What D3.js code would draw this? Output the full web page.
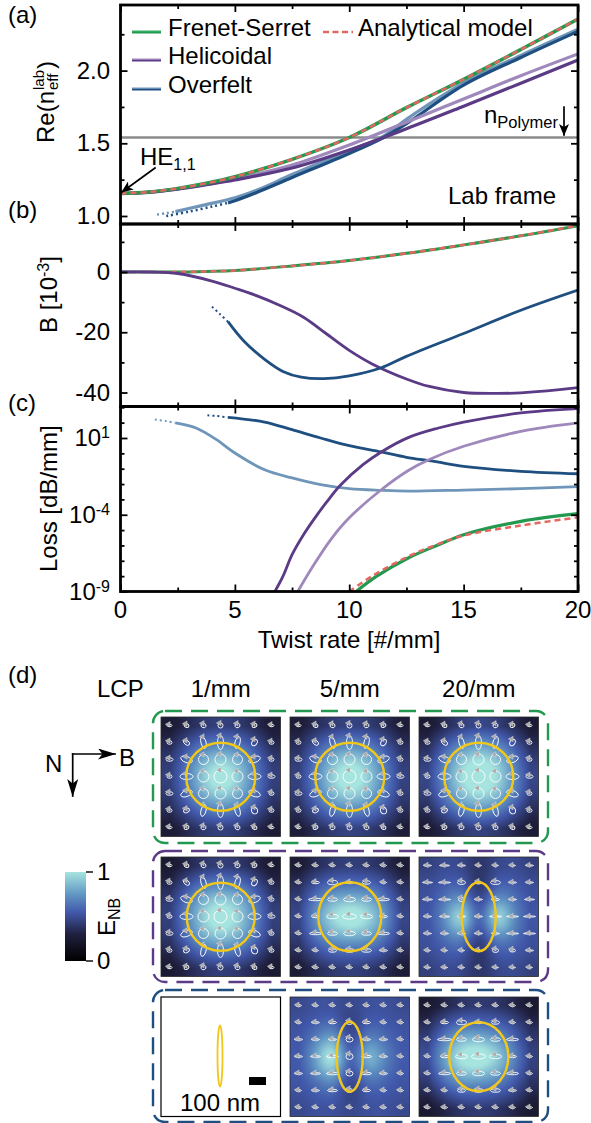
<!DOCTYPE html>
<html>
<head>
<meta charset="utf-8">
<script src="https://cdn.jsdelivr.net/npm/d3@7"></script>
<style>
    body { margin: 0; background: #fff; }
    svg { display: block; font-family: "Liberation Sans", Arial, sans-serif; }
    text { fill: #000; }
</style>
</head>
<body>
<div id="chart"></div>
<script>
// Colours
const green = '#23994f', red = '#e2675f', grey = '#8b8b8b', yellow = '#f2c71c';
const purple = '#5b3a86', purpleLight = '#9f88bb';
const blue = '#1f4f80', blueLight = '#6f95b9';

// Panel (a): Re(n_eff)
const twistGrid = [0, 1.25, 2.5, 3.75, 5, 7.5, 10, 12.5, 15, 17.5, 20];
const frenetRe = [1.155, 1.165, 1.19, 1.225, 1.27, 1.39, 1.54, 1.745, 1.94, 2.145, 2.355];
const analyticRe = [1.155, 1.165, 1.19, 1.225, 1.27, 1.39, 1.54, 1.745, 1.94, 2.145, 2.355];
const helicalRe = [1.155, 1.163, 1.185, 1.215, 1.248, 1.33, 1.454, 1.6, 1.755, 1.913, 2.073];
const helicalLightRe = [1.155, 1.164, 1.187, 1.218, 1.255, 1.35, 1.488, 1.645, 1.805, 1.965, 2.115];
const overfeltReX = [4.7, 5, 6, 7.5, 10, 11.5, 12.5, 15, 17.5, 20];
const overfeltRe = [1.09, 1.105, 1.165, 1.265, 1.43, 1.54, 1.635, 1.9, 2.09, 2.27];
const overfeltDotReX = [2, 3, 4, 4.7];
const overfeltDotRe = [1.0, 1.03, 1.065, 1.09];
const overfeltLightReX = [2.4, 3.5, 5, 6, 7.5, 10, 11.5, 12.5, 15, 17.5, 20];
const overfeltLightRe = [1.03, 1.07, 1.125, 1.18, 1.285, 1.45, 1.55, 1.665, 1.915, 2.105, 2.285];
const overfeltLightDotReX = [1.6, 2, 2.4];
const overfeltLightDotRe = [1.01, 1.02, 1.03];
const nPolymer = 1.54;

// Panel (b): birefringence
const frenetB = [0, 0, 0, 0.2, 0.5, 2, 3.8, 6.2, 9, 12, 15.4];
const analyticB = [0, 0, 0, 0.2, 0.5, 2, 3.8, 6.2, 9, 12, 15.4];
const helicalBX = [0, 1.25, 2.5, 4, 5, 6, 7, 8, 9, 10, 11, 12.5, 13.5, 15, 16.5, 17.5, 20];
const helicalB = [0, 0, -0.5, -3, -5.4, -8, -11.2, -15, -20.5, -26, -30.5, -35.5, -38, -40, -40.3, -40.1, -38.4];
const overfeltBX = [4.7, 5.4, 6.3, 7.1, 7.9, 8.9, 10, 11.4, 12.5, 15, 17.5, 20];
const overfeltB = [-16.5, -23, -29, -33, -34.9, -35.4, -34.5, -31.8, -28, -20.4, -12.7, -6];
const overfeltDotBX = [4, 4.35, 4.7];
const overfeltDotB = [-11.5, -14, -16.5];

// Panel (c): loss, exponents of ten
const overfeltLossX = [4.7, 6.3, 7.5, 8.75, 10, 11.4, 12.5, 13.7, 15, 17.5, 20];
const overfeltLoss = [2.35, 2.04, 1.54, 1, 0.5, 0.09, -0.26, -0.52, -0.85, -1.17, -1.33];
const overfeltDotLossX = [3.8, 4.2, 4.7];
const overfeltDotLoss = [2.48, 2.43, 2.35];
const overfeltLightLossX = [2.4, 3.3, 4.2, 5, 6.3, 7.5, 8.75, 10, 11.4, 12.6, 15, 17.5, 20];
const overfeltLightLoss = [1.98, 1.65, 0.89, 0.02, -1.07, -1.6, -2.04, -2.3, -2.41, -2.46, -2.39, -2.3, -2.17];
const overfeltLightDotLossX = [1.5, 2, 2.4];
const overfeltLightDotLoss = [2.2, 2.1, 1.98];
const helicalLossX = [6.75, 7.1, 7.5, 8, 8.5, 9, 9.6, 10.6, 11.4, 12.6, 13.9, 15, 17.5, 20];
const helicalLoss = [-9, -8.02, -6.6, -5.3, -4.2, -3.2, -2.1, -0.74, 0.09, 1.04, 1.65, 2.04, 2.63, 2.91];
const helicalLightLossX = [7.75, 8.35, 9.2, 10, 11.4, 12.6, 13.5, 15, 17.5, 20];
const helicalLightLoss = [-9, -7.5, -5.6, -4.2, -2.37, -1.1, -0.4, 0.46, 1.43, 1.98];
const frenetLossX = [10.3, 11.2, 12.6, 13.9, 15, 17.5, 20];
const frenetLoss = [-9, -8, -6.8, -5.96, -5.3, -4.43, -3.93];
const analyticLossX = [10, 11, 12.6, 13.9, 15, 17.5, 20];
const analyticLoss = [-9, -8, -6.7, -5.9, -5.35, -4.7, -4.17];

// Legend and axis labels
const legendLabels = ['Frenet-Serret', 'Helicoidal', 'Overfelt'];
const legendLight = ['#35ad62', purpleLight, blueLight];
const legendDark = [green, purple, blue];
const xTicks = [0, 5, 10, 15, 20];
const xMinor = [2.5, 7.5, 12.5, 17.5];
const reTicks = [1, 1.5, 2];
const reMinor = [1.25, 1.75, 2.25];
const bTicks = [0, -20, -40];
const bMinor = [10, -10, -30];
const lossTicks = [1e1, 1e-4, 1e-9];
const lossMinor = [1e3, 1e2, 1e0, 1e-1, 1e-2, 1e-3, 1e-5, 1e-6, 1e-7, 1e-8];
const rateLabels = ['1/mm', '5/mm', '20/mm'];

// Colour map of the field images
const fieldStops = [0, 0.3, 0.55, 0.75, 1];
const fieldColors = ['#000000', '#20203f', '#4259ab', '#6296c4', '#a6e4df'];

// Field strength on the 7x7 grid of the polarisation ellipses, one list per image
const fieldFrenet1 = [
    [.26, .34, .42, .45, .42, .34, .26],
    [.34, .50, .64, .68, .64, .50, .34],
    [.42, .64, .86, .96, .86, .64, .42],
    [.45, .68, .96, 1.2, .96, .68, .45],
    [.42, .64, .86, .96, .86, .64, .42],
    [.34, .50, .64, .68, .64, .50, .34],
    [.26, .34, .42, .45, .42, .34, .26]];
const fieldFrenet5 = [
    [.27, .36, .43, .46, .43, .36, .27],
    [.36, .52, .66, .70, .66, .52, .36],
    [.43, .66, .88, .98, .88, .66, .43],
    [.46, .70, .98, 1.2, .98, .70, .46],
    [.43, .66, .88, .98, .88, .66, .43],
    [.36, .52, .66, .70, .66, .52, .36],
    [.27, .36, .43, .46, .43, .36, .27]];
const fieldFrenet20 = [
    [.25, .35, .44, .48, .44, .35, .25],
    [.35, .54, .70, .76, .70, .54, .35],
    [.44, .70, .94, 1.04, .94, .70, .44],
    [.48, .74, 1.02, 1.25, 1.02, .74, .48],
    [.44, .70, .92, 1.0, .92, .70, .44],
    [.35, .52, .68, .72, .68, .52, .35],
    [.25, .34, .42, .46, .42, .34, .25]];
const fieldHelical1 = [
    [.24, .33, .41, .44, .41, .33, .24],
    [.33, .50, .64, .68, .64, .50, .33],
    [.42, .66, .88, .96, .88, .66, .42],
    [.45, .70, .98, 1.2, .98, .70, .45],
    [.42, .66, .88, .96, .88, .66, .42],
    [.33, .50, .64, .68, .64, .50, .33],
    [.24, .33, .41, .44, .41, .33, .24]];
const fieldHelical5 = [
    [.26, .36, .42, .44, .42, .36, .26],
    [.36, .52, .60, .60, .60, .52, .36],
    [.44, .68, .84, .88, .84, .68, .44],
    [.48, .78, 1.04, 1.2, 1.04, .78, .48],
    [.44, .68, .84, .88, .84, .68, .44],
    [.36, .52, .60, .60, .60, .52, .36],
    [.26, .36, .42, .44, .42, .36, .26]];
const fieldHelical20 = [
    [.44, .50, .48, .36, .48, .50, .44],
    [.50, .55, .58, .30, .58, .55, .50],
    [.52, .64, .82, .34, .82, .64, .52],
    [.54, .72, 1.25, .36, 1.25, .72, .54],
    [.52, .64, .82, .34, .82, .64, .52],
    [.50, .55, .58, .30, .58, .55, .50],
    [.44, .50, .48, .36, .48, .50, .44]];
const fieldOverfelt5 = [
    [.48, .52, .52, .46, .52, .52, .48],
    [.52, .55, .62, .38, .58, .54, .52],
    [.54, .68, .92, .36, .76, .62, .54],
    [.56, .80, 1.3, .38, 1.05, .70, .56],
    [.54, .68, .92, .36, .76, .62, .54],
    [.52, .55, .62, .38, .58, .54, .52],
    [.48, .52, .52, .46, .52, .52, .48]];
const fieldOverfelt20 = [
    [.24, .33, .40, .42, .40, .33, .24],
    [.35, .52, .62, .60, .58, .50, .34],
    [.46, .72, .88, .88, .80, .62, .42],
    [.52, .84, 1.12, 1.2, 1.0, .74, .46],
    [.46, .72, .88, .88, .80, .62, .42],
    [.35, .52, .62, .60, .58, .50, .34],
    [.24, .33, .40, .42, .40, .33, .24]];

// Polarisation ellipses: half widths, half heights and tilt on the same grid
const circleRx = [
    [2.5, 2.5, 2.5, 2.5, 2.5, 2.5, 2.5],
    [2.5, 3.5, 2.5, 3, 2.5, 2.5, 2.5],
    [3.5, 6, 5, 5.5, 5, 6, 2.5],
    [2.5, 6.5, 5.5, 6.5, 5.5, 6.5, 3.5],
    [3.5, 6, 5, 5.5, 5, 6, 2.5],
    [2.5, 3, 2.5, 3, 2.5, 3, 2.5],
    [2.5, 2.5, 2.5, 2.5, 2.5, 2.5, 2.5]];
const circleRy = [
    [1.2, 1.8, 2.2, 2.5, 2.2, 1.8, 1.2],
    [1.8, 2.2, 6, 7, 6, 3.5, 1.8],
    [1.8, 3, 5, 5.5, 5, 3, 1.8],
    [1.8, 3, 5.5, 6.5, 5.5, 3, 1.8],
    [1.8, 3, 5, 5.5, 5, 3, 1.8],
    [1.8, 2.2, 6, 7, 6, 3.5, 1.8],
    [1.2, 1.8, 2.2, 2.5, 2.2, 1.8, 1.2]];
const circleTilt = [
    [0, 30, 20, 0, -20, -30, 0],
    [0, 40, -15, 0, 15, 30, 0],
    [0, 20, 0, 0, 0, -20, 0],
    [0, 0, 0, 0, 0, 0, 0],
    [0, -20, 0, 0, 0, 20, 0],
    [0, -30, 15, 0, -15, -30, 0],
    [0, -30, -20, 0, 20, 30, 0]];
const wideRx = [
    [3, 3, 3, 3, 3, 3, 3],
    [3, 4, 5, 4, 4, 3, 3],
    [3, 7, 5, 6, 5, 6, 3],
    [3, 4, 6, 7, 6, 4, 3],
    [3, 6, 5, 6, 5, 6, 3],
    [3, 3, 4, 5, 5, 4, 3],
    [3, 3, 3, 3, 3, 3, 3]];
const wideRy = [
    [.8, .8, .8, .8, .8, .8, .8],
    [.8, 1.2, 2.2, 1, 1.8, .8, .8],
    [.8, 1.2, 1.8, 2.2, 1.8, 1.2, .8],
    [.8, 1.2, 2.2, 2.6, 2.2, 1, .8],
    [.8, 1.2, 1.8, 2.2, 1.8, 1.2, .8],
    [.8, .8, 1.8, 1.8, 1.8, .8, .8],
    [.8, .8, .8, .8, .8, .8, .8]];
const thinRx = [
    [4, 5, 4, 3, 3, 3, 4],
    [5, 6, 4, 3, 5, 4, 4],
    [5, 6, 3, 4, 4, 4, 5],
    [4, 5, 4, 4, 6, 6, 6],
    [4, 4, 4, 4, 4, 6, 6],
    [3, 3, 3, 2, 3, 3, 4],
    [3, 3, 3, 3, 3, 3, 3]];
const thinRy = [
    [.6, .6, .6, .6, .6, .6, .6],
    [.6, .6, 2, 1.5, 2, .6, .6],
    [.6, .6, 2, .6, 1, .6, .6],
    [.6, .6, .6, .6, .6, .6, .6],
    [.6, .6, .6, .6, .6, .6, .6],
    [.6, .6, .6, 1, 2, 1.5, .6],
    [.6, .6, .6, .6, .6, .6, .6]];
const coreRx = [
    [3, 3, 3, 3, 3, 3, 3],
    [3, 4, 4, 3, 4, 3, 3],
    [4, 4, 4, 3.5, 4, 4, 3],
    [4, 5, 6, 3.5, 5, 4, 3],
    [4, 5, 6, 3.5, 5, 4, 3],
    [3, 4, 5, 3, 4, 3, 3],
    [3, 3, 3, 3, 3, 3, 3]];
const coreRy = [
    [.8, .8, .8, .8, .8, .8, .8],
    [.8, .8, 1.2, 2, 1.2, .8, .8],
    [.8, .8, .8, 2.5, .8, .8, .8],
    [.8, .8, 1.2, 3, 1.2, .8, .8],
    [.8, .8, 1.2, 2.5, 1.2, .8, .8],
    [.8, .8, 1.2, 2, 1.2, .8, .8],
    [.8, .8, .8, .8, .8, .8, .8]];

// Yellow fibre outlines: half width and half height in image pixels
const fieldPanels = [
    { col: 0, row: 0, field: fieldFrenet1, rx: circleRx, ry: circleRy, tilt: circleTilt, coreX: 34.5, coreY: 34 },
    { col: 1, row: 0, field: fieldFrenet5, rx: circleRx, ry: circleRy, tilt: circleTilt, coreX: 34.5, coreY: 34 },
    { col: 2, row: 0, field: fieldFrenet20, rx: circleRx, ry: circleRy, tilt: circleTilt, coreX: 34.5, coreY: 34 },
    { col: 0, row: 1, field: fieldHelical1, rx: circleRx, ry: circleRy, tilt: circleTilt, coreX: 34, coreY: 34 },
    { col: 1, row: 1, field: fieldHelical5, rx: wideRx, ry: wideRy, coreX: 31.5, coreY: 34.5 },
    { col: 2, row: 1, field: fieldHelical20, rx: thinRx, ry: thinRy, coreX: 17, coreY: 34.5 },
    { col: 1, row: 2, field: fieldOverfelt5, rx: coreRx, ry: coreRy, coreX: 13, coreY: 35 },
    { col: 2, row: 2, field: fieldOverfelt20, rx: wideRx, ry: wideRy, coreX: 29.5, coreY: 34.5 }
];
const boxColors = [green, purple, blue];

const svg = d3.select('#chart')
    .append('svg')
    .attr('width', 591)
    .attr('height', 1123);

const defs = svg.append('defs');
const fontSize = 24;

function label(parent, x, y, str, size, anchor) {
    return parent.append('text')
        .attr('x', x)
        .attr('y', y)
        .attr('font-size', size || fontSize)
        .attr('text-anchor', anchor || 'start')
        .text(str);
}

// Shared x scale, each panel has its own y scale
const x = d3.scaleLinear().domain([0, 20]).range([120.5, 578]);
const yRe = d3.scaleLinear().domain([1, 2]).range([216, 70.6]);
const yB = d3.scaleLinear().domain([0, -40]).range([272, 392.5]);
const yLoss = d3.scaleLog().domain([1e-9, 1e1]).range([591.5, 438]);

const panels = [
    { name: 'a', y: yRe, top: 5, bottom: 224, ticks: reTicks, minor: reMinor },
    { name: 'b', y: yB, top: 224, bottom: 406.5, ticks: bTicks, minor: bMinor },
    { name: 'c', y: yLoss, top: 406.5, bottom: 591.5, ticks: lossTicks, minor: lossMinor }
];

panels.forEach(p => {
    defs.append('clipPath').attr('id', 'clip-' + p.name)
        .append('rect')
        .attr('x', x(0)).attr('y', p.top)
        .attr('width', x(20) - x(0)).attr('height', p.bottom - p.top);
    p.g = svg.append('g').attr('clip-path', `url(#clip-${p.name})`);
});

function drawLine(p, xs, ys, color, width, dash) {
    const line = d3.line()
        .x((d, i) => x(xs[i]))
        .y(d => p.y(d))
        .curve(d3.curveCatmullRom.alpha(0.5));
    return p.g.append('path')
        .attr('d', line(ys))
        .attr('fill', 'none')
        .attr('stroke', color)
        .attr('stroke-width', width)
        .attr('stroke-dasharray', dash || null);
}

const exp10 = vals => vals.map(v => Math.pow(10, v));
const dots = '2,3';

// Panel (a) lines
const pa = panels[0];
pa.g.append('line')
    .attr('x1', x(0)).attr('x2', x(20))
    .attr('y1', yRe(nPolymer)).attr('y2', yRe(nPolymer))
    .attr('stroke', grey).attr('stroke-width', 2.5);
drawLine(pa, overfeltLightDotReX, overfeltLightDotRe, blueLight, 2.5, dots);
drawLine(pa, overfeltLightReX, overfeltLightRe, blueLight, 3.2);
drawLine(pa, overfeltDotReX, overfeltDotRe, blue, 2.5, dots);
drawLine(pa, overfeltReX, overfeltRe, blue, 3.2);
drawLine(pa, twistGrid, helicalLightRe, purpleLight, 3.2);
drawLine(pa, twistGrid, helicalRe, purple, 3.2);
drawLine(pa, twistGrid, frenetRe, green, 3.5);
drawLine(pa, twistGrid, analyticRe, red, 2.5, '6,4');

// Panel (b) lines
const pb = panels[1];
drawLine(pb, twistGrid, frenetB, green, 3);
drawLine(pb, twistGrid, analyticB, red, 2.5, '6,4');
drawLine(pb, helicalBX, helicalB, purple, 2.8);
drawLine(pb, overfeltDotBX, overfeltDotB, blue, 2, dots);
drawLine(pb, overfeltBX, overfeltB, blue, 2.8);

// Panel (c) lines
const pc = panels[2];
drawLine(pc, overfeltLightDotLossX, exp10(overfeltLightDotLoss), blueLight, 2, dots);
drawLine(pc, overfeltLightLossX, exp10(overfeltLightLoss), blueLight, 2.8);
drawLine(pc, overfeltDotLossX, exp10(overfeltDotLoss), blue, 2, dots);
drawLine(pc, overfeltLossX, exp10(overfeltLoss), blue, 2.8);
drawLine(pc, helicalLightLossX, exp10(helicalLightLoss), purpleLight, 2.8);
drawLine(pc, helicalLossX, exp10(helicalLoss), purple, 2.8);
drawLine(pc, frenetLossX, exp10(frenetLoss), green, 3.2);
drawLine(pc, analyticLossX, exp10(analyticLoss), red, 2.5, '6,4');

// Ticks on all four sides, pointing into the panel
function tickSide(axis, transform, size) {
    const g = svg.append('g')
        .attr('transform', transform)
        .call(axis.tickSize(size).tickSizeOuter(0));
    g.select('.domain').remove();
    g.selectAll('.tick line').attr('stroke', '#000').attr('stroke-width', 1.8);
    g.selectAll('.tick text').remove();
    return g;
}

panels.forEach(p => {
    [[xTicks, 7], [xMinor, 4]].forEach(([vals, len]) => {
        tickSide(d3.axisBottom(x).tickValues(vals), `translate(0,${p.bottom})`, -len);
        tickSide(d3.axisBottom(x).tickValues(vals), `translate(0,${p.top})`, len);
    });
    [[p.ticks, 7], [p.minor, 4]].forEach(([vals, len]) => {
        tickSide(d3.axisLeft(p.y).tickValues(vals), `translate(${x(0)},0)`, -len);
        tickSide(d3.axisRight(p.y).tickValues(vals), `translate(${x(20)},0)`, -len);
    });
    svg.append('rect')
        .attr('x', x(0)).attr('y', p.top)
        .attr('width', x(20) - x(0)).attr('height', p.bottom - p.top)
        .attr('fill', 'none').attr('stroke', '#000').attr('stroke-width', 2.8);
});

// Tick labels
reTicks.forEach(v => {
    label(svg, 110, yRe(v) + 8, d3.format('.1f')(v), fontSize, 'end');
});
bTicks.forEach(v => {
    label(svg, 110, yB(v) + 8, String(v), fontSize, 'end');
});
lossTicks.forEach(v => {
    const t = label(svg, 110, yLoss(v) + 8, '10', fontSize, 'end');
    t.append('tspan')
        .attr('font-size', 16)
        .attr('dy', -8)
        .text(Math.round(Math.log10(v)));
});
xTicks.forEach(v => {
    label(svg, x(v), 618, String(v), fontSize, 'middle');
});
label(svg, 349, 648, 'Twist rate [#/mm]', fontSize, 'middle');

// Rotated y titles
const reTitle = svg.append('g').attr('transform', 'translate(54,143) rotate(-90)');
label(reTitle, 0, 0, 'Re(n');
label(reTitle, 53, -10, 'lab', 15);
label(reTitle, 53, 4, 'eff', 15);
label(reTitle, 74, 0, ')');

const bTitle = svg.append('g').attr('transform', 'translate(57,333) rotate(-90)');
const bText = label(bTitle, 0, 0, 'B [10');
bText.append('tspan').attr('font-size', 16).attr('dy', -8).text('-3');
bText.append('tspan').attr('dy', 8).text(']');

const lossTitle = svg.append('g').attr('transform', 'translate(57,572) rotate(-90)');
label(lossTitle, 0, 0, 'Loss [dB/mm]');

// Panel letters
[['(a)', 23], ['(b)', 218], ['(c)', 411], ['(d)', 683]].forEach(([s, y]) => {
    label(svg, 8, y, s);
});

// Legend
legendLabels.forEach((name, i) => {
    const ly = [32, 60, 89][i];
    svg.append('line').attr('x1', 132).attr('x2', 161).attr('y1', ly - 0.7).attr('y2', ly - 0.7)
        .attr('stroke', legendLight[i]).attr('stroke-width', 1.6);
    svg.append('line').attr('x1', 132).attr('x2', 161).attr('y1', ly + 0.7).attr('y2', ly + 0.7)
        .attr('stroke', legendDark[i]).attr('stroke-width', 1.6);
    label(svg, 168, ly + 4, name);
});
svg.append('line').attr('x1', 323).attr('x2', 353).attr('y1', 32).attr('y2', 32)
    .attr('stroke', red).attr('stroke-width', 2.5).attr('stroke-dasharray', '6,3.5');
label(svg, 358, 36, 'Analytical model');

// Annotation arrows, small and large heads
function headMarker(id, len, wide) {
    defs.append('marker')
        .attr('id', id).attr('viewBox', `0 0 ${len} ${wide}`)
        .attr('refX', len - 1).attr('refY', wide / 2)
        .attr('markerWidth', len).attr('markerHeight', wide)
        .attr('markerUnits', 'userSpaceOnUse').attr('orient', 'auto')
        .append('path')
        .attr('d', `M0,0 L${len},${wide / 2} L0,${wide} L${len * 0.25},${wide / 2} Z`)
        .attr('fill', '#000');
}
headMarker('head', 12, 10);
headMarker('headBig', 18, 11);

function arrow(x1, y1, x2, y2, head) {
    svg.append('line')
        .attr('x1', x1).attr('y1', y1).attr('x2', x2).attr('y2', y2)
        .attr('stroke', '#000').attr('stroke-width', 1.7)
        .attr('stroke-linecap', 'square')
        .attr('marker-end', `url(#${head || 'head'})`);
}

const heText = label(svg, 140, 165, 'HE');
heText.append('tspan').attr('font-size', 16).attr('dy', 5).text('1,1');
arrow(155, 168, 122, 192);

const polyText = label(svg, 484, 123, 'n');
polyText.append('tspan').attr('font-size', 16.5).attr('dy', 5).text('Polymer');
arrow(564, 107, 564, 135);

label(svg, 448, 204, 'Lab frame');

// Panel (d) header
label(svg, 97, 697, 'LCP');
const colX = [161, 290, 419];
const rowY = [717, 857, 997];
const cell = 119.5;
rateLabels.forEach((s, i) => {
    label(svg, colX[i] + cell / 2, 697, s, fontSize, 'middle');
});

// N / B direction sketch
arrow(72.7, 754, 115, 754, 'headBig');
arrow(72.7, 754, 72.7, 796, 'headBig');
label(svg, 45, 772, 'N');
label(svg, 119, 766, 'B');

// Colour scale and images
const fieldColor = d3.scaleLinear().domain(fieldStops).range(fieldColors).clamp(true);

function fieldImage(rows) {
    const n = 119;
    const canvas = document.createElement('canvas');
    canvas.width = n;
    canvas.height = n;
    const ctx = canvas.getContext('2d');
    const img = ctx.createImageData(n, n);
    const grid = d3.scaleLinear().domain([8.5, 110.5]).range([0, 1]);
    const splines = rows.map(r => d3.interpolateBasis(r));
    for (let py = 0; py < n; py++) {
        for (let px = 0; px < n; px++) {
            const col = splines.map(s => s(grid(px)));
            const c = d3.rgb(fieldColor(d3.interpolateBasis(col)(grid(py))));
            const k = (py * n + px) * 4;
            img.data[k] = c.r;
            img.data[k + 1] = c.g;
            img.data[k + 2] = c.b;
            img.data[k + 3] = 255;
        }
    }
    ctx.putImageData(img, 0, 0);
    return canvas.toDataURL();
}

const gridPos = d3.scaleLinear().domain([0, 6]).range([8.5, 110.5]);
const arrowHead = d3.symbol(d3.symbolTriangle, 13)();

fieldPanels.forEach(d => {
    const g = svg.append('g').attr('transform', `translate(${colX[d.col]},${rowY[d.row]})`);
    g.append('image')
        .attr('width', cell).attr('height', cell)
        .attr('href', fieldImage(d.field));
    g.append('rect')
        .attr('width', cell).attr('height', cell)
        .attr('fill', 'none').attr('stroke', '#2a2a2a').attr('stroke-width', 0.8);

    const glyphs = [];
    d.rx.forEach((row, r) => row.forEach((rx, c) => {
        glyphs.push({ r, c, rx, ry: d.ry[r][c], tilt: d.tilt ? d.tilt[r][c] : 0 });
    }));
    const glyph = g.selectAll('.pol')
        .data(glyphs)
        .join('g')
        .attr('class', 'pol')
        .attr('transform', p => `translate(${gridPos(p.c)},${gridPos(p.r)})`);
    glyph.append('ellipse')
        .attr('rx', p => p.rx)
        .attr('ry', p => p.ry)
        .attr('transform', p => `rotate(${p.tilt})`)
        .attr('fill', 'none')
        .attr('stroke', '#fff')
        .attr('stroke-width', 0.9);
    glyph.append('path')
        .attr('d', arrowHead)
        .attr('transform', p => `translate(-1,${-p.ry}) rotate(-90)`)
        .attr('fill', '#a9a9a9')
        .attr('stroke', '#e8e8e8')
        .attr('stroke-width', 0.4);

    g.append('ellipse')
        .attr('cx', cell / 2).attr('cy', cell / 2)
        .attr('rx', d.coreX).attr('ry', d.coreY)
        .attr('fill', 'none').attr('stroke', yellow).attr('stroke-width', 2.4);
});

// White scale bar image
const bar = svg.append('g').attr('transform', `translate(${colX[0]},${rowY[2]})`);
bar.append('rect')
    .attr('width', cell).attr('height', cell)
    .attr('fill', '#fff').attr('stroke', '#000').attr('stroke-width', 1.2);
bar.append('ellipse')
    .attr('cx', 59).attr('cy', 59)
    .attr('rx', 2.5).attr('ry', 30.5)
    .attr('fill', 'none').attr('stroke', yellow).attr('stroke-width', 1.8);
bar.append('rect').attr('x', 88).attr('y', 80).attr('width', 17).attr('height', 8).attr('fill', '#000');
label(bar, 59, 114, '100 nm', fontSize, 'middle');

// Dashed boxes around each row
[[711, 132], [851, 131], [990, 132]].forEach(([top, h], i) => {
    svg.append('rect')
        .attr('x', 153).attr('y', top)
        .attr('width', 395).attr('height', h)
        .attr('rx', 12).attr('ry', 12)
        .attr('fill', 'none')
        .attr('stroke', boxColors[i])
        .attr('stroke-width', 2.4)
        .attr('stroke-dasharray', '17,9');
});

// Colour bar
const barGrad = defs.append('linearGradient')
    .attr('id', 'enb').attr('x1', 0).attr('x2', 0).attr('y1', 1).attr('y2', 0);
fieldStops.forEach((s, i) => {
    barGrad.append('stop').attr('offset', s).attr('stop-color', fieldColors[i]);
});
const yBar = d3.scaleLinear().domain([0, 1]).range([961, 872]);
svg.append('rect')
    .attr('x', 65).attr('y', yBar(1))
    .attr('width', 21).attr('height', yBar(0) - yBar(1))
    .attr('fill', 'url(#enb)');
[0, 1].forEach(v => {
    svg.append('line')
        .attr('x1', 86).attr('x2', 93)
        .attr('y1', yBar(v)).attr('y2', yBar(v))
        .attr('stroke', '#000').attr('stroke-width', 1.4);
    label(svg, 97, yBar(v) + 8, String(v));
});
const enbTitle = svg.append('g').attr('transform', 'translate(115,936) rotate(-90)');
const enbText = label(enbTitle, 0, 0, 'E');
enbText.append('tspan').attr('font-size', 16).attr('dy', 5).text('NB');
</script>
</body>
</html>
